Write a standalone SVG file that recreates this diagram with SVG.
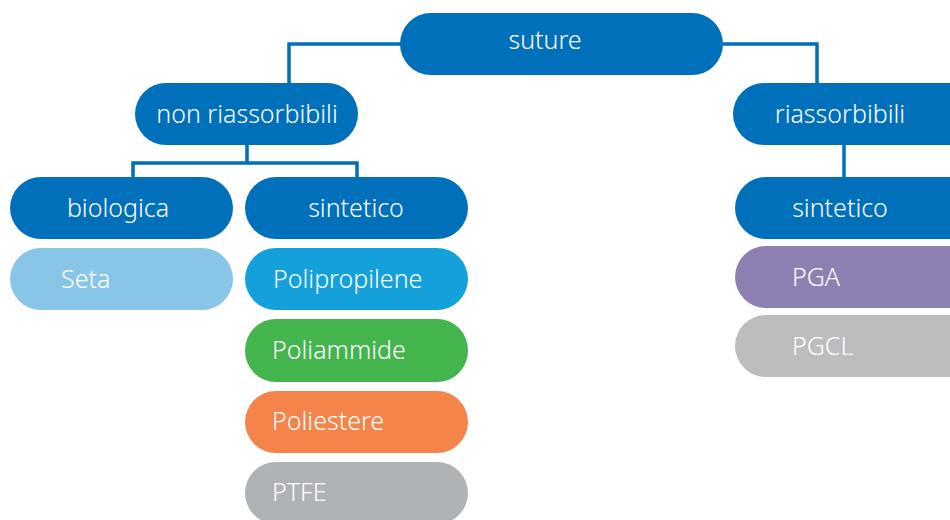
<svg xmlns="http://www.w3.org/2000/svg" width="950" height="520" viewBox="0 0 950 520">
<style>
.t{font-family:"Noto Sans","Open Sans","Liberation Sans",sans-serif;font-size:25px;font-weight:300;fill:#fff}
.c{text-anchor:middle}
.conn{fill:none;stroke:#0070BA;stroke-width:3.5}
.blue{fill:#0070BA}
</style>
<rect width="950" height="520" fill="#fff"/>
<g id="connectors">
<path class="conn" d="M402 44 H289 V85"/>
<path class="conn" d="M721 44 H817 V85"/>
<path class="conn" d="M247 143 V163 M133 179 V163 H357 V179"/>
<path class="conn" d="M844 143 V179"/>
</g>
<g id="suture"><rect class="blue" x="400" y="13" width="323" height="62" rx="31"/><text class="t c" x="545" y="49">suture</text></g>
<g id="non-riassorbibili"><rect class="blue" x="135" y="83" width="223" height="62" rx="31"/><text class="t c" x="247" y="123">non riassorbibili</text></g>
<g id="riassorbibili"><rect class="blue" x="733" y="83" width="250" height="62" rx="31"/><text class="t c" x="840" y="123">riassorbibili</text></g>
<g id="biologica"><rect class="blue" x="10" y="177" width="223" height="62" rx="31"/><text class="t c" x="118" y="217">biologica</text></g>
<g id="sintetico-1"><rect class="blue" x="245" y="177" width="223" height="62" rx="31"/><text class="t c" x="356" y="217">sintetico</text></g>
<g id="sintetico-2"><rect class="blue" x="735" y="177" width="250" height="62" rx="31"/><text class="t c" x="840" y="217">sintetico</text></g>
<g id="seta"><rect fill="#88C5E6" x="10" y="248" width="223" height="62" rx="31"/><text class="t" x="61" y="288">Seta</text></g>
<g id="polipropilene"><rect fill="#13A0DB" x="245" y="248" width="223" height="62" rx="31"/><text class="t" x="273" y="288">Polipropilene</text></g>
<g id="poliammide"><rect fill="#43B54C" x="245" y="319" width="223" height="63" rx="31"/><text class="t" x="272" y="359">Poliammide</text></g>
<g id="poliestere"><rect fill="#F4844A" x="245" y="391" width="223" height="62" rx="31"/><text class="t" x="272" y="430">Poliestere</text></g>
<g id="ptfe"><rect fill="#B0B3B5" x="245" y="462" width="223" height="62" rx="31"/><text class="t" x="272" y="501">PTFE</text></g>
<g id="pga"><rect fill="#8E80B2" x="735" y="246" width="250" height="62" rx="31"/><text class="t" x="792" y="286">PGA</text></g>
<g id="pgcl"><rect fill="#BCBDBF" x="735" y="315" width="250" height="62" rx="31"/><text class="t" x="792" y="355">PGCL</text></g>
</svg>
